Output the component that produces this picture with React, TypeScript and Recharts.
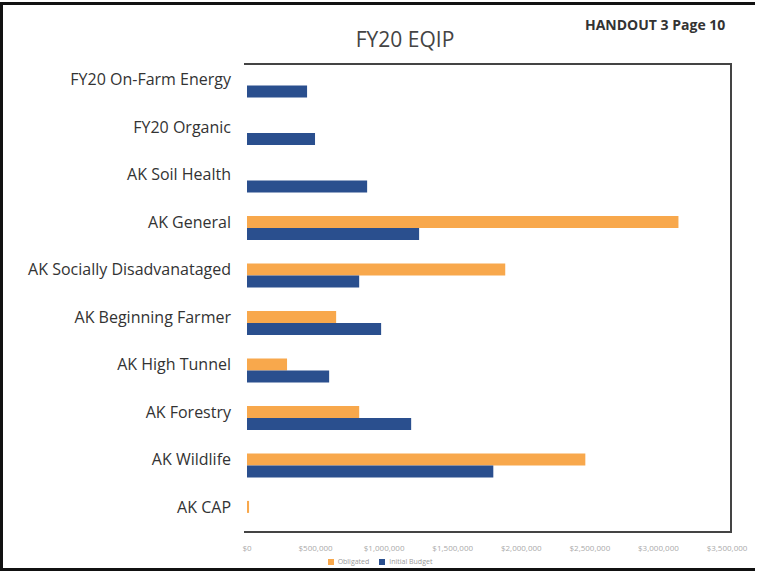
import React from 'react';
import { BarChart, Bar, XAxis, YAxis, Legend } from 'recharts';

const categories = [
  'FY20 On-Farm Energy',
  'FY20 Organic',
  'AK Soil Health',
  'AK General',
  'AK Socially Disadvanataged',
  'AK Beginning Farmer',
  'AK High Tunnel',
  'AK Forestry',
  'AK Wildlife',
  'AK CAP',
];

const obligated = [0, 0, 0, 3146000, 1883000, 650000, 292000, 818000, 2467000, 15000];
const initialBudget = [438000, 496000, 876000, 1255000, 818000, 978000, 599000, 1197000, 1796000, 0];

const xTicks = [0, 500000, 1000000, 1500000, 2000000, 2500000, 3000000, 3500000];

const data = categories.map((name, i) => ({
  name,
  obligated: obligated[i],
  budget: initialBudget[i],
}));

const money = (v: number) => '$' + v.toLocaleString('en-US');

const CategoryTick = (props: any) => {
  const { x, y, payload } = props;
  return (
    <text
      x={x - 8}
      y={y - 5}
      textAnchor="end"
      dominantBaseline="middle"
      fontSize={16}
      fill="#333"
      fontFamily="Open Sans"
    >
      {payload.value}
    </text>
  );
};

export default function App() {
  return (
    <div
      style={{
        position: 'absolute',
        left: 0,
        top: 0,
        width: 757,
        height: 576,
        background: '#fff',
        fontFamily: 'Open Sans',
        overflow: 'hidden',
      }}
    >
      <div
        style={{
          position: 'absolute',
          left: 0,
          top: 2,
          width: 755,
          height: 569,
          borderLeft: '3px solid #111',
          borderTop: '3px solid #111',
          borderBottom: '3px solid #111',
          boxSizing: 'border-box',
        }}
      />
      <div
        style={{
          position: 'absolute',
          left: 244,
          top: 63,
          width: 488,
          height: 470,
          borderTop: '2px solid #444',
          borderRight: '2px solid #444',
          borderBottom: '2px solid #444',
          boxSizing: 'border-box',
        }}
      />
      <div
        style={{
          position: 'absolute',
          left: 0,
          width: 810,
          top: 25,
          textAlign: 'center',
          fontSize: 21,
          color: '#444',
        }}
      >
        FY20 EQIP
      </div>
      <div
        style={{
          position: 'absolute',
          left: 585,
          top: 15,
          fontSize: 14,
          fontWeight: 'bold',
          color: '#333',
        }}
      >
        HANDOUT 3 Page 10
      </div>
      <div style={{ position: 'absolute', left: 0, top: 0 }}>
        <BarChart
          layout="vertical"
          width={757}
          height={576}
          data={data}
          margin={{ top: 62, right: 30, bottom: 12, left: 0 }}
          barCategoryGap="24%"
          barGap={0}
        >
          <XAxis
            type="number"
            domain={[0, 3500000]}
            ticks={xTicks}
            tickFormatter={money}
            axisLine={false}
            tickLine={false}
            tick={{ fontSize: 8, fill: '#aaa' }}
            height={18}
          />
          <YAxis
            type="category"
            dataKey="name"
            width={247}
            axisLine={false}
            tickLine={false}
            tick={<CategoryTick />}
            interval={0}
          />
          <Legend
            verticalAlign="bottom"
            iconType="square"
            iconSize={6}
            itemSorter={(item: any) => (item.dataKey === 'obligated' ? 0 : 1)}
            formatter={(value: string) => <span style={{ color: '#999' }}>{value}</span>}
            wrapperStyle={{ fontSize: 7, left: 310, width: 150, bottom: 10 }}
          />
          <Bar dataKey="obligated" name="Obligated" fill="#F8A84C" isAnimationActive={false} />
          <Bar dataKey="budget" name="Initial Budget" fill="#2A4F8E" isAnimationActive={false} />
        </BarChart>
      </div>
    </div>
  );
}
